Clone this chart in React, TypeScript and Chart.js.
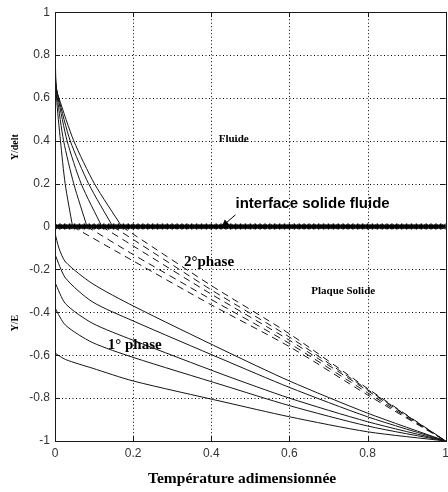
import React, { useEffect, useRef } from "react";
import { Chart, registerables } from "chart.js";

Chart.register(...registerables);

// ---- Data ----
const xTickValues = [0, 0.2, 0.4, 0.6, 0.8, 1];
const yTickValues = [-1, -0.8, -0.6, -0.4, -0.2, 0, 0.2, 0.4, 0.6, 0.8, 1];

// Fluid side profiles (Y/delt)
const fluid1 = [[0, 0.83], [0.004, 0.6], [0.014, 0.4], [0.026, 0.2], [0.045, 0]];
const fluid2 = [[0, 0.72], [0.006, 0.6], [0.022, 0.4], [0.048, 0.2], [0.082, 0]];
const fluid3 = [[0, 0.69], [0.008, 0.6], [0.031, 0.4], [0.067, 0.2], [0.12, 0]];
const fluid4 = [[0, 0.67], [0.009, 0.6], [0.039, 0.4], [0.086, 0.2], [0.148, 0]];
const fluid5 = [[0, 0.66], [0.01, 0.6], [0.048, 0.4], [0.101, 0.2], [0.171, 0]];

// Solid plate, 2nd phase (dashed)
const phase2a = [[0.045, 0], [0.2, -0.16], [0.4, -0.365], [0.6, -0.56], [0.8, -0.785], [1, -1]];
const phase2b = [[0.082, 0], [0.2, -0.13], [0.4, -0.34], [0.6, -0.545], [0.8, -0.775], [1, -1]];
const phase2c = [[0.12, 0], [0.2, -0.09], [0.4, -0.315], [0.6, -0.53], [0.8, -0.765], [1, -1]];
const phase2d = [[0.148, 0], [0.2, -0.06], [0.4, -0.295], [0.6, -0.515], [0.8, -0.76], [1, -1]];
const phase2e = [[0.171, 0], [0.2, -0.035], [0.4, -0.275], [0.6, -0.5], [0.8, -0.755], [1, -1]];

// Solid plate, 1st phase (solid)
const phase1a = [[0, -0.03], [0.01, -0.1], [0.027, -0.165], [0.095, -0.265], [0.2, -0.37], [0.43, -0.575], [0.6, -0.72], [0.8, -0.87], [1, -1]];
const phase1b = [[0, -0.13], [0.027, -0.24], [0.095, -0.35], [0.2, -0.44], [0.43, -0.62], [0.6, -0.75], [0.8, -0.887], [1, -1]];
const phase1c = [[0, -0.26], [0.027, -0.36], [0.095, -0.45], [0.2, -0.53], [0.43, -0.69], [0.6, -0.8], [0.8, -0.91], [1, -1]];
const phase1d = [[0, -0.38], [0.027, -0.46], [0.095, -0.54], [0.2, -0.61], [0.43, -0.74], [0.6, -0.835], [0.8, -0.93], [1, -1]];
const phase1e = [[0, -0.59], [0.027, -0.62], [0.095, -0.66], [0.2, -0.72], [0.43, -0.817], [0.6, -0.887], [0.8, -0.957], [1, -1]];

// Interface (marker positions along y = 0)
const interfaceX = [
  0, 0.0125, 0.025, 0.0375, 0.05, 0.0625, 0.075, 0.0875, 0.1, 0.1125, 0.125, 0.1375, 0.15, 0.1625, 0.175, 0.1875,
  0.2, 0.2125, 0.225, 0.2375, 0.25, 0.2625, 0.275, 0.2875, 0.3, 0.3125, 0.325, 0.3375, 0.35, 0.3625, 0.375, 0.3875,
  0.4, 0.4125, 0.425, 0.4375, 0.45, 0.4625, 0.475, 0.4875, 0.5, 0.5125, 0.525, 0.5375, 0.55, 0.5625, 0.575, 0.5875,
  0.6, 0.6125, 0.625, 0.6375, 0.65, 0.6625, 0.675, 0.6875, 0.7, 0.7125, 0.725, 0.7375, 0.75, 0.7625, 0.775, 0.7875,
  0.8, 0.8125, 0.825, 0.8375, 0.85, 0.8625, 0.875, 0.8875, 0.9, 0.9125, 0.925, 0.9375, 0.95, 0.9625, 0.975, 0.9875, 1,
];
const interfaceY = 0;

// Labels
const xTitle = "Température adimensionnée";
const yTitleTop = "Y/delt";
const yTitleBottom = "Y/E";
const textFluide = "Fluide";
const textPlaque = "Plaque Solide";
const textPhase2 = "2°phase";
const textPhase1 = "1° phase";
const textInterface = "interface solide fluide";

const toPts = (arr: number[][]) => arr.map(([x, y]) => ({ x, y }));

const SERIF = "'Liberation Serif', 'Times New Roman', serif";
const SANS = "'Liberation Sans', Arial, sans-serif";

const fmt = (v: any) => String(Math.round(Number(v) * 10) / 10);

const gridPlugin = {
  id: "dottedGrid",
  beforeDatasetsDraw(chart: any) {
    const { ctx, chartArea } = chart;
    const xs = chart.scales.x;
    const ys = chart.scales.y;
    const { left, right, top, bottom } = chartArea;
    ctx.save();
    ctx.strokeStyle = "#000";
    ctx.lineWidth = 1;
    ctx.setLineDash([1, 2.5]);
    ctx.beginPath();
    xTickValues.forEach((v) => {
      const p = Math.round(xs.getPixelForValue(v)) + 0.5;
      ctx.moveTo(p, top);
      ctx.lineTo(p, bottom);
    });
    yTickValues.forEach((v) => {
      const p = Math.round(ys.getPixelForValue(v)) + 0.5;
      ctx.moveTo(left, p);
      ctx.lineTo(right, p);
    });
    ctx.stroke();
    ctx.restore();
  },
};

const annotationPlugin = {
  id: "annotations",
  afterDraw(chart: any) {
    const { ctx, chartArea } = chart;
    const xs = chart.scales.x;
    const ys = chart.scales.y;
    const { left, right, top, bottom } = chartArea;
    ctx.save();

    // box
    ctx.strokeStyle = "#1a1a1a";
    ctx.lineWidth = 1;
    ctx.setLineDash([]);
    ctx.strokeRect(Math.round(left) + 0.5, Math.round(top) + 0.5, Math.round(right - left), Math.round(bottom - top));

    // inside tick marks
    const tl = 5;
    ctx.beginPath();
    xTickValues.forEach((v) => {
      const p = Math.round(xs.getPixelForValue(v)) + 0.5;
      ctx.moveTo(p, bottom);
      ctx.lineTo(p, bottom - tl);
      ctx.moveTo(p, top);
      ctx.lineTo(p, top + tl);
    });
    yTickValues.forEach((v) => {
      const p = Math.round(ys.getPixelForValue(v)) + 0.5;
      ctx.moveTo(left, p);
      ctx.lineTo(left + tl, p);
      ctx.moveTo(right, p);
      ctx.lineTo(right - tl, p);
    });
    ctx.stroke();

    ctx.fillStyle = "#000";
    ctx.textBaseline = "middle";

    const txt = (s: string, xv: number, yv: number, font: string) => {
      ctx.font = font;
      ctx.textAlign = "left";
      ctx.fillText(s, xs.getPixelForValue(xv), ys.getPixelForValue(yv));
    };
    txt(textFluide, 0.419, 0.41, `bold 11px ${SERIF}`);
    txt(textPlaque, 0.656, -0.3, `bold 11px ${SERIF}`);
    txt(textPhase2, 0.33, -0.167, `bold 15px ${SERIF}`);
    txt(textPhase1, 0.135, -0.553, `bold 15px ${SERIF}`);
    txt(textInterface, 0.462, 0.107, `bold 15px ${SANS}`);

    // arrow
    const ax0 = xs.getPixelForValue(0.462);
    const ay0 = ys.getPixelForValue(0.055);
    const ax1 = xs.getPixelForValue(0.427);
    const ay1 = ys.getPixelForValue(0);
    ctx.strokeStyle = "#000";
    ctx.lineWidth = 1;
    ctx.beginPath();
    ctx.moveTo(ax0, ay0);
    ctx.lineTo(ax1, ay1);
    ctx.stroke();
    const ang = Math.atan2(ay1 - ay0, ax1 - ax0);
    const hl = 7;
    const hw = 3.5;
    ctx.beginPath();
    ctx.moveTo(ax1, ay1);
    ctx.lineTo(ax1 - hl * Math.cos(ang) + hw * Math.sin(ang), ay1 - hl * Math.sin(ang) - hw * Math.cos(ang));
    ctx.lineTo(ax1 - hl * Math.cos(ang) - hw * Math.sin(ang), ay1 - hl * Math.sin(ang) + hw * Math.cos(ang));
    ctx.closePath();
    ctx.fill();

    // y titles (rotated)
    const rot = (s: string, x: number, y: number, font: string) => {
      ctx.save();
      ctx.translate(x, y);
      ctx.rotate(-Math.PI / 2);
      ctx.font = font;
      ctx.textAlign = "center";
      ctx.textBaseline = "middle";
      ctx.fillText(s, 0, 0);
      ctx.restore();
    };
    rot(yTitleTop, left - 40, ys.getPixelForValue(0.37), `bold 10px ${SERIF}`);
    rot(yTitleBottom, left - 40, ys.getPixelForValue(-0.45), `bold 10px ${SERIF}`);

    // x title
    ctx.font = `bold 15.5px ${SERIF}`;
    ctx.textAlign = "center";
    ctx.textBaseline = "middle";
    ctx.fillText(xTitle, left + (right - left) * 0.479, bottom + 38);

    ctx.restore();
  },
};

export default function App() {
  const ref = useRef<HTMLCanvasElement | null>(null);

  useEffect(() => {
    if (!ref.current) return;
    const lineColor = "#141414";
    const solid = (data: number[][]) => ({
      data: toPts(data),
      showLine: true,
      borderColor: lineColor,
      borderWidth: 1,
      pointRadius: 0,
      tension: 0.25,
      fill: false,
    });
    const dashed = (data: number[][]) => ({
      ...solid(data),
      borderDash: [7, 5],
    });

    const chart = new Chart(ref.current, {
      type: "scatter",
      data: {
        datasets: [
          solid(fluid1), solid(fluid2), solid(fluid3), solid(fluid4), solid(fluid5),
          dashed(phase2a), dashed(phase2b), dashed(phase2c), dashed(phase2d), dashed(phase2e),
          solid(phase1a), solid(phase1b), solid(phase1c), solid(phase1d), solid(phase1e),
          {
            data: interfaceX.map((x) => ({ x, y: interfaceY })),
            showLine: true,
            borderColor: "#000",
            borderWidth: 2.5,
            pointStyle: "star",
            pointRadius: 3,
            pointBorderWidth: 1.5,
            pointBorderColor: "#000",
            pointBackgroundColor: "#000",
            fill: false,
          } as any,
        ],
      },
      options: {
        responsive: false,
        animation: false,
        events: [],
        layout: { padding: { left: 0, top: 11, right: 0, bottom: 0 } },
        plugins: {
          legend: { display: false },
          tooltip: { enabled: false },
        },
        scales: {
          x: {
            type: "linear",
            min: 0,
            max: 1,
            afterFit: (s: any) => { s.height = 51; },
            afterBuildTicks: (s: any) => { s.ticks = xTickValues.map((v) => ({ value: v })); },
            ticks: {
              padding: 5,
              color: "#333",
              font: { family: SANS, size: 12 },
              maxRotation: 0,
              callback: fmt,
            },
            grid: { display: false, drawTicks: false },
            border: { display: false },
          },
          y: {
            type: "linear",
            min: -1,
            max: 1,
            afterFit: (s: any) => { s.width = 55; },
            afterBuildTicks: (s: any) => { s.ticks = yTickValues.map((v) => ({ value: v })); },
            ticks: {
              padding: 5,
              color: "#333",
              font: { family: SANS, size: 12 },
              callback: fmt,
            },
            grid: { display: false, drawTicks: false },
            border: { display: false },
          },
        },
      },
      plugins: [gridPlugin, annotationPlugin],
    });
    return () => chart.destroy();
  }, []);

  return (
    <div
      style={{
        position: "absolute",
        left: 0,
        top: 0,
        width: 448,
        height: 492,
        overflow: "hidden",
        background: "#fff",
      }}
    >
      <canvas ref={ref} width={454} height={492} style={{ display: "block" }} />
    </div>
  );
}
